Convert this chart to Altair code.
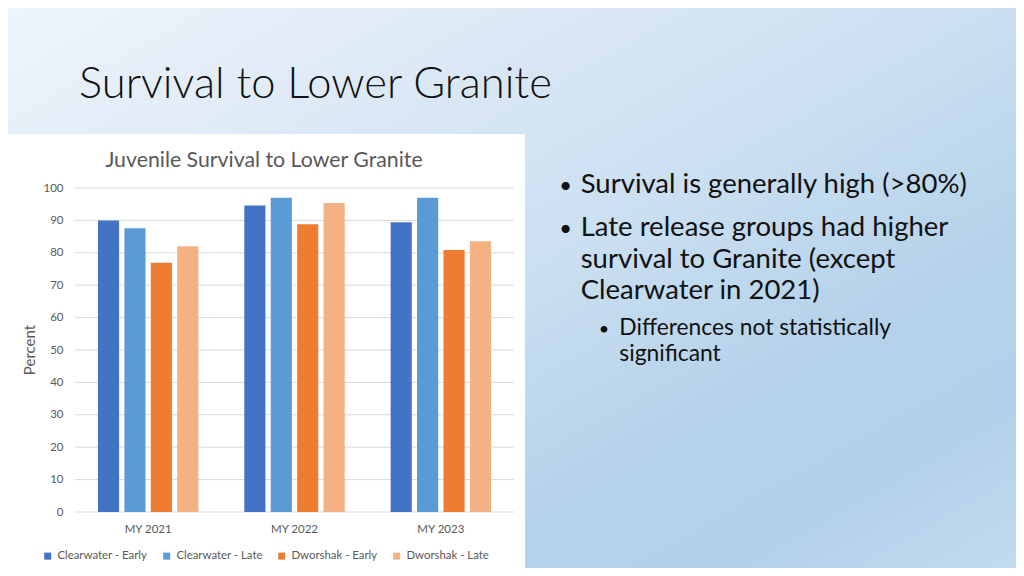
import altair as alt
import pandas as pd

# ---- data ----
years = ["MY 2021", "MY 2022", "MY 2023"]
groups = ["Clearwater - Early", "Clearwater - Late", "Dworshak - Early", "Dworshak - Late"]
clearwater_early = [90.0, 94.6, 89.4]
clearwater_late = [87.6, 97.0, 97.0]
dworshak_early = [76.9, 88.8, 80.9]
dworshak_late = [82.0, 95.4, 83.6]
y_ticks = [0, 10, 20, 30, 40, 50, 60, 70, 80, 90, 100]
colors = ["#4472C4", "#5B9BD5", "#ED7D31", "#F4B183"]

slide_title = "Survival to Lower Granite"
chart_title = "Juvenile Survival to Lower Granite"
y_title = "Percent"
bullet_1 = ["Survival is generally high (>80%)"]
bullet_2 = ["Late release groups had higher", "survival to Granite (except", "Clearwater in 2021)"]
sub_bullet = ["Differences not statistically", "significant"]

rows = []
for series, vals in zip(groups, [clearwater_early, clearwater_late, dworshak_early, dworshak_late]):
    for yr, v in zip(years, vals):
        rows.append({"year": yr, "group": series, "value": v})
df = pd.DataFrame(rows)
ticks_df = pd.DataFrame({"tick": y_ticks})

FONT = "Lato"
GRAY = "#595959"
INK = "#111111"
one = alt.Data(values=[{"k": 1}])

yscale = alt.Scale(domain=[0, 100], nice=False)
yaxis = alt.Axis(
    values=y_ticks, title=None, grid=False, domain=False, ticks=False,
    labelPadding=12, labelFont=FONT, labelFontSize=11.5, labelColor=GRAY, zindex=1,
)

background = alt.Chart(one).mark_rect(
    color=alt.LinearGradient(
        gradient="linear",
        stops=[
            alt.GradientStop(color="#eff5fb", offset=0),
            alt.GradientStop(color="#d6e5f4", offset=0.35),
            alt.GradientStop(color="#cadff1", offset=0.5),
            alt.GradientStop(color="#b5d2ea", offset=0.7),
            alt.GradientStop(color="#b3d0ea", offset=0.85),
            alt.GradientStop(color="#c4dbef", offset=1),
        ],
        x1=0, y1=0, x2=1, y2=1,
    )
).encode(x=alt.value(-75), x2=alt.value(949), y=alt.value(-188), y2=alt.value(388))

panel = alt.Chart(one).mark_rect(color="white").encode(
    x=alt.value(-72), x2=alt.value(450), y=alt.value(-54), y2=alt.value(390)
)

grid = alt.Chart(ticks_df).mark_rule(color="#d9d9d9", strokeWidth=1).encode(
    y=alt.Y("tick:Q", scale=yscale, axis=yaxis),
    x=alt.value(0),
    x2=alt.value(439),
)

bars = alt.Chart(df).mark_bar().encode(
    x=alt.X(
        "year:N",
        sort=years,
        scale=alt.Scale(paddingInner=0.314, paddingOuter=0.157),
        axis=alt.Axis(
            title=None, labelAngle=0, domain=False, ticks=False, labelPadding=11,
            labelFont=FONT, labelFontSize=11.5, labelColor=GRAY, zindex=1,
        ),
    ),
    xOffset=alt.XOffset("group:N", sort=groups, scale=alt.Scale(paddingInner=0.2, paddingOuter=0)),
    y=alt.Y("value:Q", scale=yscale, axis=yaxis),
    color=alt.Color(
        "group:N",
        sort=groups,
        scale=alt.Scale(domain=groups, range=colors),
        legend=alt.Legend(
            title=None, orient="none", legendX=-33, legendY=362, direction="horizontal",
            labelFont=FONT, labelFontSize=11.4, labelColor=GRAY, symbolType="square",
            symbolSize=49, symbolStrokeWidth=0, labelOffset=4, columnPadding=13,
        ),
    ),
)

def text_layer(lines, x, y, size, color, weight=400, line_height=None, align="left", angle=None, baseline="alphabetic"):
    kw = dict(font=FONT, fontSize=size, color=color, fontWeight=weight, align=align, baseline=baseline)
    if line_height:
        kw["lineHeight"] = line_height
    if angle is not None:
        kw["angle"] = angle
    return alt.Chart(one).mark_text(**kw).encode(
        x=alt.value(x), y=alt.value(y), text=alt.value(lines if len(lines) > 1 else lines[0])
    )

title_t = text_layer([slide_title], 4, -90, 43.5, INK, weight=300)
chart_t = text_layer([chart_title], 189, -21, 21.3, GRAY, align="center")
ytitle_t = text_layer([y_title], -45, 162, 15, GRAY, align="center", angle=270, baseline="middle")
dot1 = text_layer(["•"], 490.5, 4.7, 22, INK, align="center")
dot2 = text_layer(["•"], 490.5, 48, 22, INK, align="center")
dot3 = text_layer(["•"], 529, 146.5, 18, INK, align="center")
b1 = text_layer(bullet_1, 505.7, 4.7, 27.5, INK)
b2 = text_layer(bullet_2, 505.7, 48, 27.5, INK, line_height=31.5)
sb = text_layer(sub_bullet, 544.3, 146.5, 22.8, INK, line_height=26)

chart = alt.layer(
    background, panel, grid, bars, title_t, chart_t, ytitle_t, dot1, dot2, dot3, b1, b2, sb
).properties(
    width=439,
    height=324,
    autosize=alt.AutoSizeParams(type="none"),
    padding={"left": 67, "top": 180, "right": 502, "bottom": 56},
).configure_view(stroke=None)

chart.save("out.html", embed_options={"renderer": "svg", "actions": False})
